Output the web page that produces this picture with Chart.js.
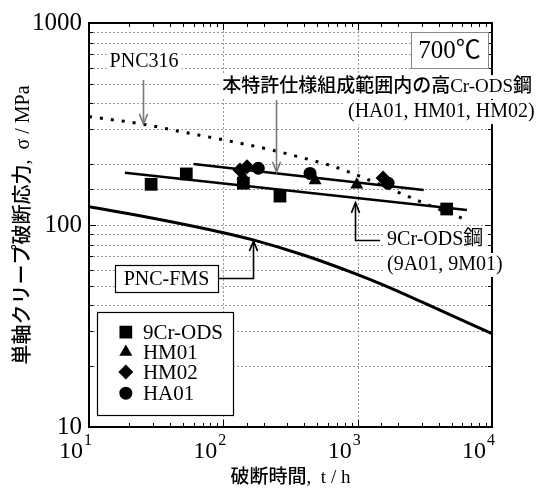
<!DOCTYPE html>
<html><head><meta charset="utf-8">
<script src="https://cdn.jsdelivr.net/npm/chart.js@4/dist/chart.umd.min.js"></script>
<style>html,body{margin:0;padding:0;background:#fff;}#wrap{width:548px;height:497px;}</style>
</head><body><div id="wrap"><canvas id="c" width="548" height="497"></canvas></div>
<script>
// ---------- data ----------
const timeTicks = [10, 100, 1000, 10000];
const timeTickBase = ['10', '10', '10', '10'];
const timeTickExp = ['1', '2', '3', '4'];
const stressTicks = [10, 100, 1000];

const odsTime = [29, 53, 141, 264, 4600];
const odsStress = [159, 179, 161, 139, 120];
const hm01Time = [140, 482, 985];
const hm01Stress = [175, 166, 158];
const hm02Time = [133, 150, 1545];
const hm02Stress = [187, 194, 171];
const ha01Time = [182, 442, 1683];
const ha01Stress = [191, 180, 161];

const odsFitTime = [18.5, 6500];
const odsFitStress = [181.5, 118.6];
const hiCrFitTime = [60, 3100];
const hiCrFitStress = [200.5, 149];

const pnc316Time = [10, 25, 48, 100, 230, 390, 660, 1390, 2070, 3640, 6000];
const pnc316Stress = [344, 316, 290, 264, 235, 215, 195, 161, 144, 123, 108];
const fmsTime = [10, 30, 100, 167, 400, 1000, 1470, 3000, 10000];
const fmsStress = [123, 108, 91.6, 84.4, 70.8, 56.8, 51.2, 41.6, 29];

const legendNames = ['9Cr-ODS', 'HM01', 'HM02', 'HA01'];

// ---------- styles ----------
const SERIF = "'Liberation Serif', 'Times New Roman', serif";
const MIXED = "'Liberation Serif', 'Noto Sans CJK JP', serif";
const GRID = '#999999';

const pts = (xs, ys) => xs.map((x, i) => ({x: x, y: ys[i]}));
const markerSet = (label, xs, ys, style, r) => ({
  label, data: pts(xs, ys), pointStyle: style, pointRadius: r, pointHoverRadius: r,
  backgroundColor: '#000', borderColor: '#000', borderWidth: 0, pointBorderWidth: 0,
  showLine: false, order: 0
});
const lineSet = (label, xs, ys, w, extra) => Object.assign({
  label, data: pts(xs, ys), showLine: true, pointRadius: 0, pointHoverRadius: 0,
  borderColor: '#000', backgroundColor: '#000', borderWidth: w, fill: false, order: 1
}, extra || {});

const isDecade = v => Math.abs(Math.log10(v) - Math.round(Math.log10(v))) < 1e-6;

function drawMarker(ctx, style, r, x, y) {
  ctx.fillStyle = '#000';
  if (window.Chart && Chart.helpers && Chart.helpers.drawPoint) {
    Chart.helpers.drawPoint(ctx, {pointStyle: style, radius: r, rotation: 0, borderWidth: 0}, x, y);
    return;
  }
  ctx.beginPath();
  if (style === 'rect') { const s = r * Math.SQRT1_2; ctx.rect(x - s, y - s, 2 * s, 2 * s); }
  else if (style === 'triangle') { ctx.moveTo(x, y - r); ctx.lineTo(x + r * 0.866, y + r / 2); ctx.lineTo(x - r * 0.866, y + r / 2); ctx.closePath(); }
  else if (style === 'rectRot') { ctx.moveTo(x, y - r); ctx.lineTo(x + r, y); ctx.lineTo(x, y + r); ctx.lineTo(x - r, y); ctx.closePath(); }
  else { ctx.arc(x, y, r, 0, Math.PI * 2); }
  ctx.fill();
}

function arrowPath(ctx, points, color) {
  ctx.save();
  ctx.strokeStyle = color; ctx.lineWidth = 1.6; ctx.lineJoin = 'miter';
  ctx.beginPath();
  ctx.moveTo(points[0][0], points[0][1]);
  for (let i = 1; i < points.length; i++) ctx.lineTo(points[i][0], points[i][1]);
  ctx.stroke();
  const [x2, y2] = points[points.length - 1];
  const [x1, y1] = points[points.length - 2];
  const a = Math.atan2(y2 - y1, x2 - x1), L = 11, h = 0.38;
  ctx.beginPath();
  ctx.moveTo(x2 - L * Math.cos(a - h), y2 - L * Math.sin(a - h));
  ctx.lineTo(x2, y2);
  ctx.lineTo(x2 - L * Math.cos(a + h), y2 - L * Math.sin(a + h));
  ctx.stroke();
  ctx.restore();
}

function label(ctx, text, x, y, font, align, bg) {
  ctx.save();
  ctx.font = font; ctx.textAlign = align; ctx.textBaseline = 'middle';
  if (bg) {
    const w = ctx.measureText(text).width;
    const lx = align === 'left' ? x : align === 'right' ? x - w : x - w / 2;
    ctx.fillStyle = '#fff';
    ctx.fillRect(lx - 3, y - 12, w + 6, 24);
  }
  ctx.fillStyle = '#000';
  ctx.fillText(text, x, y);
  ctx.restore();
}

const dottedGrid = {
  id: 'dottedGrid',
  beforeDatasetsDraw(chart) {
    const ctx = chart.ctx, xs = chart.scales.x, ys = chart.scales.y, a = chart.chartArea;
    ctx.save();
    ctx.strokeStyle = GRID; ctx.lineWidth = 1; ctx.setLineDash([2, 2]);
    ctx.beginPath();
    ys.ticks.forEach(t => {
      if (t.value <= 10 || t.value >= 1000) return;
      const p = Math.round(ys.getPixelForValue(t.value)) + 0.5;
      ctx.moveTo(a.left, p); ctx.lineTo(a.right, p);
    });
    xs.ticks.forEach(t => {
      if (!isDecade(t.value) || t.value <= 10 || t.value >= 10000) return;
      const p = Math.round(xs.getPixelForValue(t.value)) + 0.5;
      ctx.moveTo(p, a.top); ctx.lineTo(p, a.bottom);
    });
    ctx.stroke();
    ctx.restore();
  }
};

const decorations = {
  id: 'decorations',
  afterDatasetsDraw(chart) {
    const ctx = chart.ctx, xs = chart.scales.x, ys = chart.scales.y, a = chart.chartArea;
    const X = v => xs.getPixelForValue(v), Y = v => ys.getPixelForValue(v);

    // inner tick marks
    ctx.save();
    ctx.strokeStyle = '#000'; ctx.lineWidth = 1;
    ctx.beginPath();
    xs.ticks.forEach(t => {
      const p = Math.round(X(t.value)) + 0.5, len = isDecade(t.value) ? 7 : 4;
      ctx.moveTo(p, a.bottom); ctx.lineTo(p, a.bottom - len);
      ctx.moveTo(p, a.top); ctx.lineTo(p, a.top + len);
    });
    ys.ticks.forEach(t => {
      const p = Math.round(Y(t.value)) + 0.5, len = isDecade(t.value) ? 7 : 4;
      ctx.moveTo(a.left, p); ctx.lineTo(a.left + len, p);
      ctx.moveTo(a.right, p); ctx.lineTo(a.right - len, p);
    });
    ctx.stroke();
    ctx.lineWidth = 2;
    ctx.strokeRect(a.left, a.top, a.right - a.left, a.bottom - a.top);
    ctx.restore();

    // x tick labels with exponents
    ctx.save();
    ctx.fillStyle = '#000'; ctx.textBaseline = 'alphabetic';
    timeTicks.forEach((v, i) => {
      const p = X(v);
      ctx.font = '24px ' + SERIF; ctx.textAlign = 'right';
      ctx.fillText(timeTickBase[i], p - 6, a.bottom + 31);
      ctx.font = '16px ' + SERIF; ctx.textAlign = 'left';
      ctx.fillText(timeTickExp[i], p - 5, a.bottom + 18);
    });
    ctx.restore();

    // PNC316 annotation
    label(ctx, 'PNC316', X(25.7), Y(641), '20px ' + SERIF, 'center', true);
    arrowPath(ctx, [[Math.round(X(25.4)) + 0.5, Y(523)], [Math.round(X(25.4)) + 0.5, Y(316)]], '#7a7a7a');

    // high-Cr annotation
    label(ctx, '本特許仕様組成範囲内の高Cr-ODS鋼', X(98), Y(482), '500 19px ' + MIXED, 'left', true);
    label(ctx, '(HA01, HM01, HM02)', X(847), Y(362), '20px ' + SERIF, 'left', true);
    arrowPath(ctx, [[Math.round(X(247)) + 0.5, Y(416)], [Math.round(X(247)) + 0.5, Y(183)]], '#7a7a7a');

    // 9Cr-ODS annotation
    label(ctx, '9Cr-ODS鋼', X(1656), Y(84.3), '20px ' + MIXED, 'left', true);
    label(ctx, '(9A01, 9M01)', X(1656), Y(63.4), '20px ' + SERIF, 'left', true);
    arrowPath(ctx, [[X(1469), Math.round(Y(84.3)) + 0.5], [Math.round(X(955)) + 0.5, Math.round(Y(84.3)) + 0.5], [Math.round(X(955)) + 0.5, Y(129)]], '#000');

    // PNC-FMS box annotation
    ctx.save();
    const bx1 = X(15.6), bx2 = X(91.3), by1 = Y(63.4), by2 = Y(46.6);
    ctx.fillStyle = '#fff'; ctx.fillRect(bx1, by1, bx2 - bx1, by2 - by1);
    ctx.strokeStyle = '#000'; ctx.lineWidth = 1.2;
    ctx.strokeRect(Math.round(bx1) + 0.5, Math.round(by1) + 0.5, Math.round(bx2 - bx1), Math.round(by2 - by1));
    ctx.restore();
    label(ctx, 'PNC-FMS', (bx1 + bx2) / 2, (by1 + by2) / 2 + 1, '20px ' + SERIF, 'center', false);
    arrowPath(ctx, [[bx2, Math.round(Y(54.7)) + 0.5], [Math.round(X(166)) + 0.5, Math.round(Y(54.7)) + 0.5], [Math.round(X(166)) + 0.5, Y(83.4)]], '#000');

    // temperature box
    ctx.save();
    const tx1 = X(2500), tx2 = X(9350), ty1 = Y(902), ty2 = Y(599);
    ctx.fillStyle = '#fff'; ctx.fillRect(tx1, ty1, tx2 - tx1, ty2 - ty1);
    ctx.strokeStyle = '#888'; ctx.lineWidth = 1;
    ctx.strokeRect(Math.round(tx1) + 0.5, Math.round(ty1) + 0.5, Math.round(tx2 - tx1), Math.round(ty2 - ty1));
    ctx.restore();
    label(ctx, '700℃', (tx1 + tx2) / 2, (ty1 + ty2) / 2 + 1, '25px ' + MIXED, 'center', false);

    // legend
    ctx.save();
    const lx1 = X(11.5), lx2 = X(118), ly1 = Y(37.1), ly2 = Y(11.5);
    ctx.fillStyle = '#fff'; ctx.fillRect(lx1, ly1, lx2 - lx1, ly2 - ly1);
    ctx.strokeStyle = '#000'; ctx.lineWidth = 1.2;
    ctx.strokeRect(Math.round(lx1) + 0.5, Math.round(ly1) + 0.5, Math.round(lx2 - lx1), Math.round(ly2 - ly1));
    ctx.restore();
    const rows = [29.5, 23.5, 18.7, 14.7];
    chart.data.datasets.slice(0, 4).forEach((ds, i) => {
      const y = Y(rows[i]);
      ctx.save();
      drawMarker(ctx, ds.pointStyle, ds.pointRadius, X(18.8), y);
      ctx.restore();
      label(ctx, legendNames[i], X(25.2), y + 1, '21px ' + SERIF, 'left', false);
    });
  }
};

new Chart(document.getElementById('c'), {
  type: 'scatter',
  data: {
    datasets: [
      markerSet('9Cr-ODS', odsTime, odsStress, 'rect', 9),
      markerSet('HM01', hm01Time, hm01Stress, 'triangle', 7.5),
      markerSet('HM02', hm02Time, hm02Stress, 'rectRot', 7.5),
      markerSet('HA01', ha01Time, ha01Stress, 'circle', 6.5),
      lineSet('9Cr-ODS fit', odsFitTime, odsFitStress, 2.5),
      lineSet('High-Cr fit', hiCrFitTime, hiCrFitStress, 2.5),
      lineSet('PNC316', pnc316Time, pnc316Stress, 3, {borderDash: [3, 8], tension: 0.4, cubicInterpolationMode: 'monotone', borderCapStyle: 'butt'}),
      lineSet('PNC-FMS', fmsTime, fmsStress, 3, {tension: 0.4, cubicInterpolationMode: 'monotone'})
    ]
  },
  options: {
    responsive: false, animation: false, devicePixelRatio: 1,
    layout: {padding: {top: 23, right: 56, left: 0, bottom: 0}},
    plugins: {legend: {display: false}, tooltip: {enabled: false}},
    scales: {
      x: {
        type: 'logarithmic', position: 'bottom', min: 10, max: 10000,
        afterFit: s => { s.height = 70; },
        ticks: {display: false, autoSkip: false},
        grid: {display: false, drawTicks: false},
        border: {display: false},
        title: {display: true, text: '破断時間,  t / h', color: '#000', font: {family: MIXED, size: 19, weight: '500'}, padding: {top: 0, bottom: 8}}
      },
      y: {
        type: 'logarithmic', position: 'left', min: 10, max: 1000,
        afterFit: s => { s.width = 89; },
        ticks: {autoSkip: false, color: '#000', padding: 7, font: {family: SERIF, size: 25},
          callback: v => stressTicks.some(t => Math.abs(t - v) < 1e-6) ? String(Math.round(v)) : ''},
        grid: {display: false, drawTicks: false},
        border: {display: false},
        title: {display: true, text: '単軸クリープ破断応力,  σ / MPa', color: '#000', font: {family: MIXED, size: 20, weight: '500'}, padding: {top: 12, bottom: 0}}
      }
    }
  },
  plugins: [dottedGrid, decorations]
});
</script>
</body></html>
